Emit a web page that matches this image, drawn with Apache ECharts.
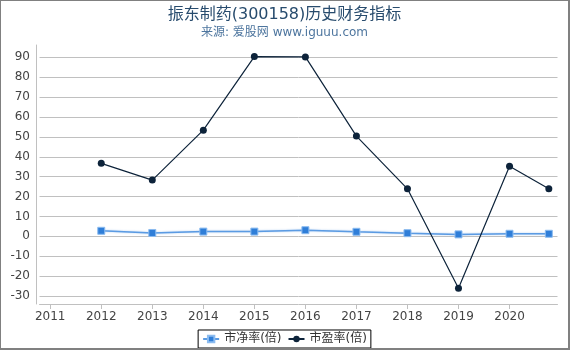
<!DOCTYPE html>
<html>
<head>
<meta charset="utf-8">
<script src="https://cdn.jsdelivr.net/npm/echarts@6/dist/echarts.min.js"></script>
<style>
  html, body { margin: 0; padding: 0; background: #fff; }
  #chart {
    width: 567px; height: 347px;
    border-left: 1px solid #808080; border-top: 1px solid #808080;
    border-right: 2px solid #808080; border-bottom: 2px solid #808080;
  }
</style>
</head>
<body>
<div id="chart"></div>
<script>
// 年份位置（最后一个点为 2020 年三季度）
const years = [2012, 2013, 2014, 2015, 2016, 2017, 2018, 2019, 2020, 2020.77];
const pbValues = [2.8, 1.7, 2.4, 2.4, 3.1, 2.3, 1.6, 1.0, 1.3, 1.3];
const peValues = [36.7, 28.3, 53.4, 90.4, 90.2, 50.4, 23.9, -26.1, 35.2, 23.9];
const xTicks = [2011, 2012, 2013, 2014, 2015, 2016, 2017, 2018, 2019, 2020];
const yTicks = [-30, -20, -10, 0, 10, 20, 30, 40, 50, 60, 70, 80, 90];

const chart = echarts.init(document.getElementById('chart'));

const font = '"DejaVu Sans", "Noto Sans CJK SC", sans-serif';

const option = {
  animation: false,
  title: {
    text: '振东制药(300158)历史财务指标',
    subtext: '来源: 爱股网 www.iguuu.com',
    left: 'center',
    top: 1,
    itemGap: 4,
    textStyle: { color: '#274b6d', fontSize: 16, fontWeight: 'normal', fontFamily: font },
    subtextStyle: { color: '#4d759e', fontSize: 12, fontFamily: font }
  },
  legend: {
    bottom: 0,
    left: 'center',
    borderColor: '#000',
    borderWidth: 1,
    borderRadius: 0,
    padding: [3, 4],
    itemGap: 6,
    itemWidth: 16,
    itemHeight: 8,
    textStyle: { color: '#333', fontSize: 12, fontFamily: font },
    data: ['市净率(倍)', '市盈率(倍)']
  },
  grid: { left: 38.5, right: 10.5, top: 44, bottom: 44 },
  xAxis: {
    type: 'value',
    min: 2010.79,
    max: 2020.94,
    axisLine: { onZero: false, lineStyle: { color: '#c0c0c0' } },
    axisTick: { customValues: xTicks, length: 5, lineStyle: { color: '#c0c0c0' } },
    axisLabel: {
      customValues: xTicks,
      formatter: v => String(v),
      color: '#444',
      fontSize: 12,
      margin: 7,
      fontFamily: font
    },
    splitLine: { show: false }
  },
  yAxis: {
    type: 'value',
    min: -34,
    max: 96.2,
    offset: 3.5,
    axisLine: { show: true, onZero: false, lineStyle: { color: '#c0c0c0' } },
    axisTick: { show: false, customValues: yTicks },
    axisLabel: { customValues: yTicks, color: '#444', fontSize: 12, margin: 6, fontFamily: font },
    splitLine: { show: true, customValues: yTicks, lineStyle: { color: '#c0c0c0' } }
  },
  series: [
    {
      name: '市净率(倍)',
      type: 'line',
      data: years.map((x, i) => [x, pbValues[i]]),
      symbol: 'rect',
      symbolSize: 7,
      itemStyle: { color: '#2f7ed8', borderColor: '#8cbcf0', borderWidth: 1 },
      lineStyle: { color: '#5b9be3', width: 1.5, shadowColor: 'rgba(47,126,216,0.4)', shadowBlur: 2 }
    },
    {
      name: '市盈率(倍)',
      type: 'line',
      data: years.map((x, i) => [x, peValues[i]]),
      symbol: 'circle',
      symbolSize: 7,
      itemStyle: { color: '#0d233a' },
      lineStyle: { color: '#0d233a', width: 1.2 }
    }
  ]
};

chart.setOption(option);
</script>
</body>
</html>
